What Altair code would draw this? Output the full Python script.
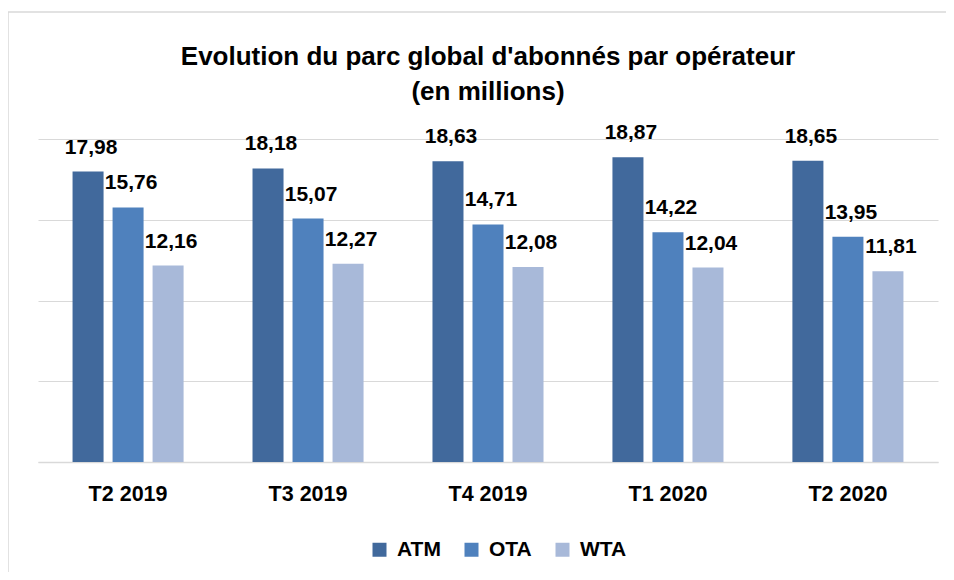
import altair as alt
import pandas as pd

periods = ["T2 2019", "T3 2019", "T4 2019", "T1 2020", "T2 2020"]
operators = ["ATM", "OTA", "WTA"]
atm = [17.98, 18.18, 18.63, 18.87, 18.65]
ota = [15.76, 15.07, 14.71, 14.22, 13.95]
wta = [12.16, 12.27, 12.08, 12.04, 11.81]
colors = ["#41699C", "#4F81BD", "#A8B9D9"]

rows = []
for series_name, vals in zip(operators, [atm, ota, wta]):
    for p, v in zip(periods, vals):
        rows.append({"periode": p, "operateur": series_name, "valeur": v})
df = pd.DataFrame(rows)

FONT = "Liberation Sans, Arial, sans-serif"

x_enc = alt.X("periode:N", sort=periods,
              scale=alt.Scale(paddingInner=0.383, paddingOuter=0.192),
              axis=alt.Axis(title=None, labelAngle=0, ticks=False, labelPadding=21,
                            labelFontSize=21.5, labelFontWeight="bold", labelColor="#000000",
                            labelFont=FONT, domain=True, domainColor="#d9d9d9", domainWidth=1.5,
                            grid=False))
xoff = alt.XOffset("operateur:N", sort=operators,
                   scale=alt.Scale(paddingInner=0.225, paddingOuter=0))
y_enc = alt.Y("valeur:Q", scale=alt.Scale(domain=[0, 20], nice=False),
              axis=alt.Axis(title=None, labels=False, ticks=False, domain=False,
                            values=[0, 5, 10, 15, 20], grid=True,
                            gridColor="#d9d9d9", gridWidth=1.2))

base = alt.Chart(df)

bars = base.mark_bar().encode(
    x=x_enc, xOffset=xoff, y=y_enc,
    color=alt.Color("operateur:N", sort=operators,
                    scale=alt.Scale(domain=operators, range=colors),
                    legend=alt.Legend(title=None, orient="none", legendX=331, legendY=400,
                                      direction="horizontal", symbolType="square",
                                      symbolSize=196, symbolStrokeWidth=0,
                                      labelFontSize=21, labelFontWeight="bold",
                                      labelFont=FONT, labelColor="#000000",
                                      labelOffset=7, columnPadding=20)),
)

labels = base.transform_calculate(
    lab="replace(format(datum.valeur, '.2f'), '.', ',')"
).mark_text(baseline="alphabetic", dy=-18, dx=3, fontSize=21, fontWeight="bold",
            font=FONT, color="#000000").encode(
    x=alt.X("periode:N", sort=periods), xOffset=alt.XOffset("operateur:N", sort=operators),
    y=alt.Y("valeur:Q"), text="lab:N")

frame = alt.Data(values=[{"k": 1}])
border_top = alt.Chart(frame).mark_rule(
    stroke="#d9d9d9", strokeWidth=1.5, clip=False
).encode(x=alt.value(-30), x2=alt.value(960), y=alt.value(-127))
border_left = alt.Chart(frame).mark_rule(
    stroke="#d9d9d9", strokeWidth=1.5, clip=False
).encode(x=alt.value(-30), y=alt.value(-127), y2=alt.value(500))

chart = alt.layer(border_top, border_left, bars, labels).properties(
    width=900, height=323,
    autosize=alt.AutoSizeParams(type="none"),
    padding={"left": 30, "top": 131, "right": 8, "bottom": 110},
    title=alt.Title(["Evolution du parc global d'abonnés par opérateur", "(en millions)"],
                    fontSize=26, fontWeight="bold", font=FONT, color="#000000",
                    lineHeight=35, anchor="middle", offset=-94),
).configure(background="#ffffff", view=alt.ViewConfig(stroke=None))

chart.save("out.html", embed_options={"renderer": "svg", "actions": False})
